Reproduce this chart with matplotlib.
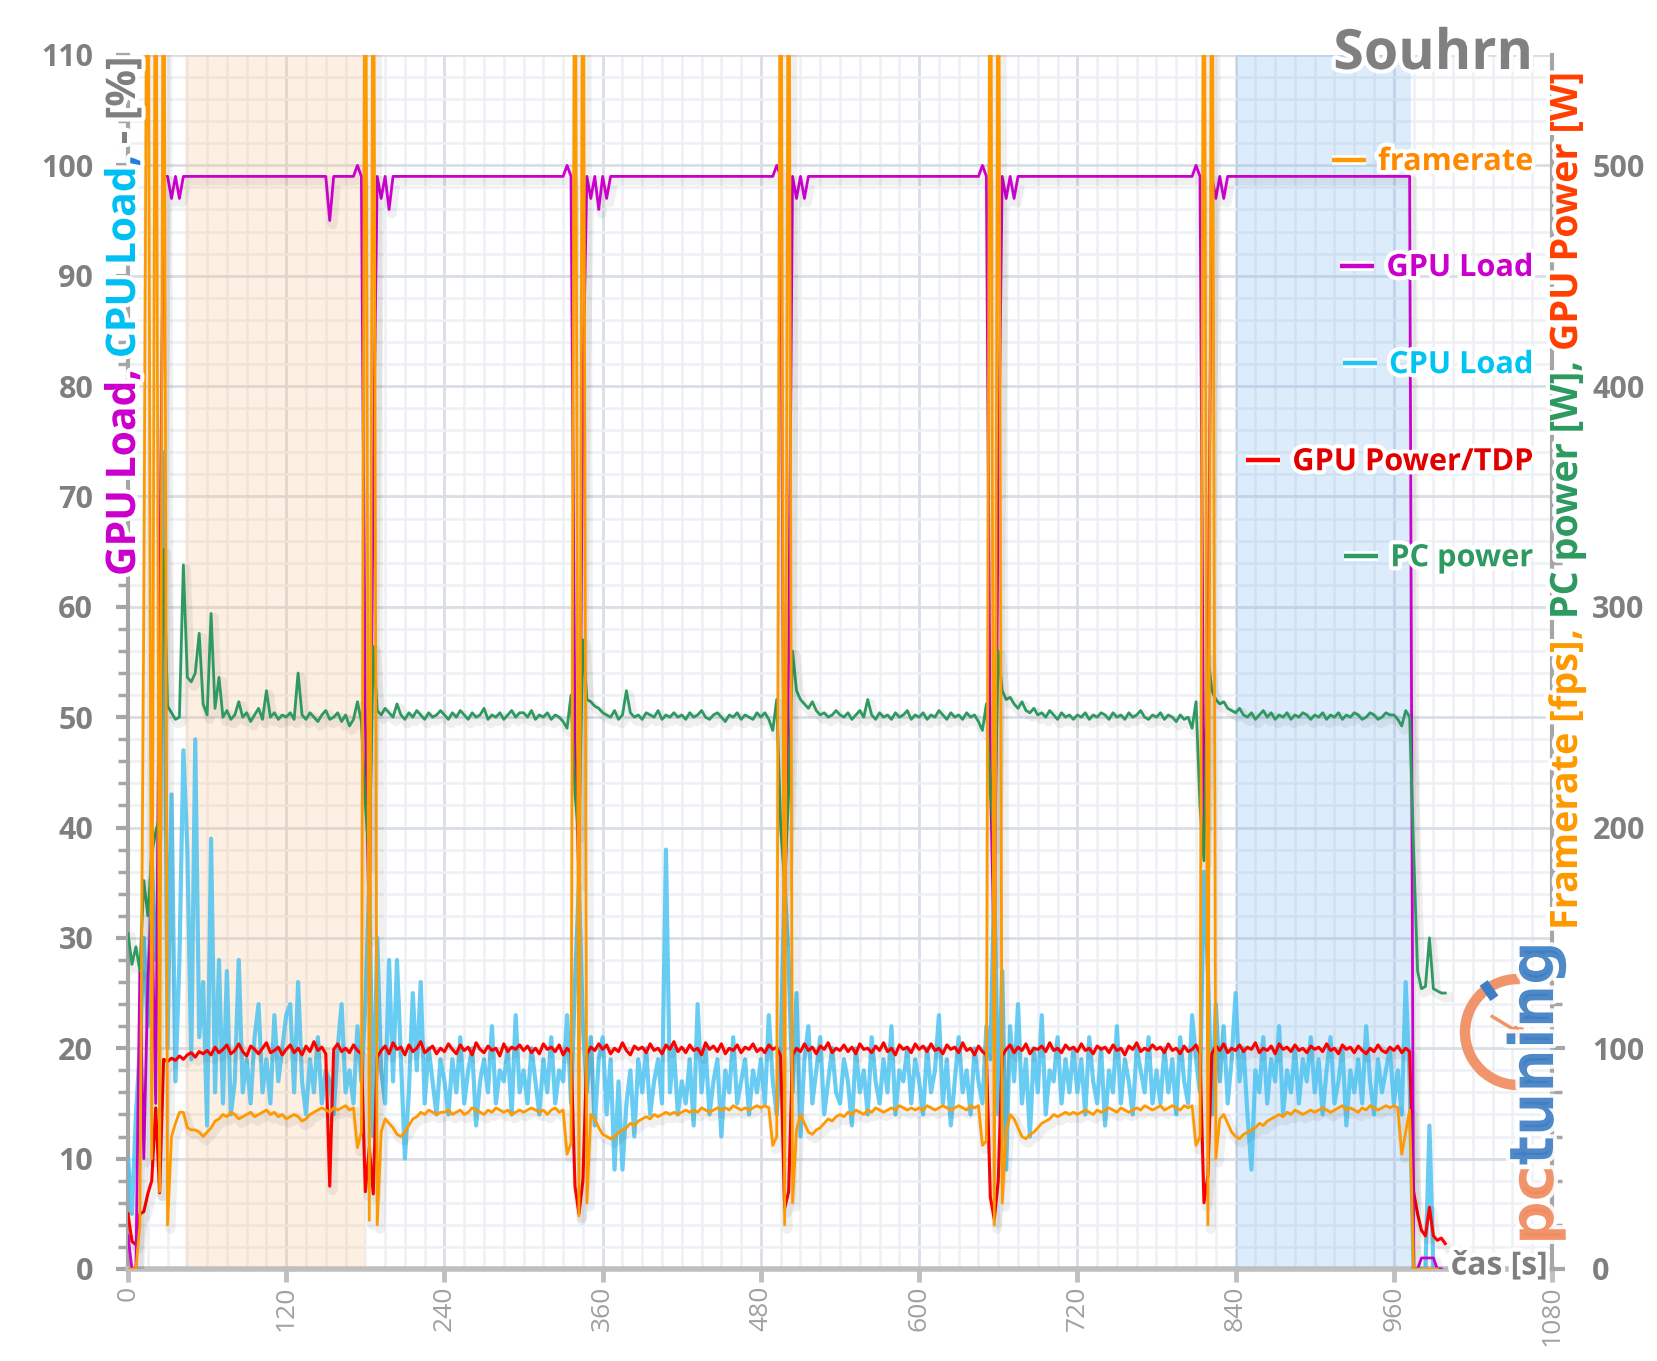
import numpy as np
import matplotlib
matplotlib.use("Agg")
import matplotlib.pyplot as plt
from matplotlib import patheffects as pe
from matplotlib.ticker import MultipleLocator, FixedLocator
from matplotlib.patches import Arc, Circle
from matplotlib.transforms import IdentityTransform
from matplotlib.font_manager import FontProperties

plt.rcParams['font.family'] = ['Open Sans', 'DejaVu Sans']
nan = np.nan

# sampling every 3 s
t = np.arange(334) * 3

# GPU load [%]
gpu_load = [
    3, 0, 0, 27, 10, 26, 33, 15, 60, 99, 99, 97, 99, 97, 99, 99, 99, 99, 99, 99,
    99, 99, 99, 99, 99, 99, 99, 99, 99, 99, 99, 99, 99, 99, 99, 99, 99, 99, 99, 99,
    99, 99, 99, 99, 99, 99, 99, 99, 99, 99, 99, 95, 99, 99, 99, 99, 99, 99, 100, 99,
    50, 30, 72, 99, 97, 99, 96, 99, 99, 99, 99, 99, 99, 99, 99, 99, 99, 99, 99, 99,
    99, 99, 99, 99, 99, 99, 99, 99, 99, 99, 99, 99, 99, 99, 99, 99, 99, 99, 99, 99,
    99, 99, 99, 99, 99, 99, 99, 99, 99, 99, 99, 100, 99, 48, 35, 80, 99, 97, 99, 96,
    99, 97, 99, 99, 99, 99, 99, 99, 99, 99, 99, 99, 99, 99, 99, 99, 99, 99, 99, 99,
    99, 99, 99, 99, 99, 99, 99, 99, 99, 99, 99, 99, 99, 99, 99, 99, 99, 99, 99, 99,
    99, 99, 99, 99, 100, 99, 30, 55, 99, 97, 99, 97, 99, 99, 99, 99, 99, 99, 99, 99,
    99, 99, 99, 99, 99, 99, 99, 99, 99, 99, 99, 99, 99, 99, 99, 99, 99, 99, 99, 99,
    99, 99, 99, 99, 99, 99, 99, 99, 99, 99, 99, 99, 99, 99, 99, 99, 100, 99, 45, 28,
    70, 99, 97, 99, 97, 99, 99, 99, 99, 99, 99, 99, 99, 99, 99, 99, 99, 99, 99, 99,
    99, 99, 99, 99, 99, 99, 99, 99, 99, 99, 99, 99, 99, 99, 99, 99, 99, 99, 99, 99,
    99, 99, 99, 99, 99, 99, 99, 99, 99, 99, 100, 99, 40, 55, 99, 97, 99, 97, 99, 99,
    99, 99, 99, 99, 99, 99, 99, 99, 99, 99, 99, 99, 99, 99, 99, 99, 99, 99, 99, 99,
    99, 99, 99, 99, 99, 99, 99, 99, 99, 99, 99, 99, 99, 99, 99, 99, 99, 99, 99, 99,
    99, 99, 99, 99, 99, 0, 0, 1, 1, 1, 1, 0, 0, nan,
]

# CPU load [%]
cpu_load = [
    10, 5, 14, 20, 30, 22, 37, 28, 35, 74, 20, 43, 17, 28, 47, 38, 19, 48, 21, 26,
    13, 39, 16, 28, 15, 27, 14, 17, 28, 16, 19, 15, 21, 24, 16, 19, 15, 23, 17, 20,
    23, 24, 16, 26, 17, 14, 19, 16, 21, 15, 18, 17, 14, 20, 24, 16, 18, 15, 22, 17,
    24, 35, 12, 30, 18, 15, 28, 17, 28, 19, 10, 16, 25, 18, 26, 15, 20, 17, 14, 19,
    17, 14, 19, 16, 21, 15, 18, 20, 13, 17, 19, 16, 22, 15, 18, 17, 20, 14, 23, 16,
    18, 15, 20, 17, 14, 19, 16, 21, 15, 18, 17, 23, 15, 26, 35, 22, 16, 21, 13, 19,
    21, 14, 19, 9, 17, 9, 15, 18, 12, 19, 16, 20, 14, 17, 19, 15, 38, 16, 20, 14,
    17, 15, 19, 13, 24, 16, 20, 14, 17, 19, 12, 18, 16, 21, 15, 17, 19, 14, 18, 16,
    19, 15, 23, 17, 14, 20, 35, 28, 16, 25, 12, 19, 22, 15, 18, 21, 14, 17, 20, 16,
    15, 19, 17, 13, 20, 16, 18, 14, 21, 17, 15, 19, 16, 22, 14, 18, 17, 20, 15, 19,
    17, 14, 20, 16, 18, 23, 15, 19, 13, 17, 21, 16, 18, 14, 20, 17, 15, 22, 19, 35,
    14, 27, 9, 22, 17, 24, 15, 19, 12, 20, 16, 23, 14, 18, 17, 21, 15, 19, 16, 20,
    16, 19, 14, 21, 17, 15, 20, 13, 18, 16, 22, 15, 19, 17, 14, 20, 18, 16, 21, 15,
    18, 15, 20, 16, 19, 14, 21, 17, 15, 23, 19, 16, 36, 27, 14, 24, 17, 22, 15, 19,
    25, 17, 20, 14, 9, 18, 16, 21, 15, 19, 17, 22, 14, 18, 16, 20, 15, 19, 17, 21,
    16, 19, 14, 18, 21, 15, 17, 20, 13, 18, 16, 19, 15, 22, 17, 14, 19, 16, 18, 20,
    15, 18, 14, 26, 17, 0, 0, 0, 0, 13, 0, 0, nan, nan,
]

# GPU power / TDP [%]
gpu_power = [
    5, 2.5, 2.2, 5, 5.2, 6.8, 8, 14.6, 6.9, 19, 18.8, 19.1, 18.9, 19.3, 19.0, 19.4, 19.6, 19.2, 19.7, 19.5,
    19.8, 19.4, 20.1, 19.6, 19.9, 20.3, 19.5, 19.8, 20.4, 19.7, 19.3, 20.2, 19.9, 19.5, 20.0, 20.5, 19.6, 19.8, 20.1, 19.4,
    19.9, 20.3, 19.6, 20.0, 19.4, 20.2, 19.7, 20.6, 19.8, 20.1, 19.5, 7.5, 19.9, 20.4, 19.7, 20.0, 19.6, 20.3, 19.8, 19.5,
    7, 11, 6.8, 19.2, 19.8, 20.2, 19.5, 20.5, 19.9, 20.1, 19.4, 20.3, 19.7, 20.0, 20.6, 19.6, 19.9, 20.2, 19.5, 20.0,
    19.7, 20.4, 19.9, 19.5, 20.3, 19.8, 20.1, 19.4, 20.5, 19.9, 19.6, 20.2, 19.8, 20.0, 19.3, 20.4, 19.7, 20.1, 19.9, 20.3,
    19.8, 20.2, 19.6, 20.0, 19.5, 20.4, 19.9, 20.1, 19.7, 20.3, 19.4, 20.0, 19.6, 7.5, 5, 8, 19.5, 20.1, 19.8, 20.4,
    19.9, 20.3, 19.5, 20.0, 19.7, 20.5, 19.8, 19.4, 20.2, 19.9, 20.1, 19.6, 20.4, 19.8, 20.0, 19.5, 20.3, 19.9, 20.6, 19.7,
    20.1, 19.6, 20.3, 19.8, 20.0, 19.4, 20.5, 19.9, 20.2, 19.7, 20.4, 19.5, 20.0, 19.8, 20.3, 19.6, 20.1, 19.9, 20.4, 19.7,
    20.0, 19.6, 20.3, 19.9, 20.1, 19.3, 5.5, 7, 19.4, 20.0, 19.7, 20.4, 19.8, 20.1, 19.5, 20.2, 19.9, 20.5, 19.6, 20.0,
    19.8, 20.3, 19.7, 20.1, 19.5, 20.4, 19.9, 20.0, 19.6, 20.2, 19.8, 20.5, 19.7, 20.0, 19.4, 20.3, 19.9, 20.1, 19.6, 20.4,
    19.9, 20.2, 19.7, 20.4, 19.8, 20.0, 19.5, 20.3, 19.9, 20.1, 19.6, 20.5, 19.8, 20.0, 19.4, 20.2, 19.7, 19.4, 6.5, 4.5,
    8, 19.3, 19.9, 20.3, 19.6, 20.1, 19.8, 20.4, 19.5, 20.0, 19.9, 20.2, 19.7, 20.5, 19.8, 20.0, 19.6, 20.3, 19.9, 20.1,
    19.7, 20.4, 19.8, 20.0, 19.5, 20.2, 19.9, 20.1, 19.6, 20.3, 19.8, 20.0, 19.4, 20.2, 19.9, 20.5, 19.7, 20.0, 19.8, 20.3,
    19.9, 20.1, 19.6, 20.4, 19.8, 20.0, 19.5, 20.2, 19.7, 19.9, 20.3, 19.5, 6, 8.5, 19.5, 20.2, 19.8, 20.4, 19.6, 20.0,
    19.8, 20.3, 19.7, 20.1, 19.9, 20.5, 19.6, 20.0, 19.8, 20.2, 19.5, 20.4, 19.9, 20.1, 19.7, 20.3, 19.8, 20.0, 19.6, 20.2,
    19.9, 20.1, 19.7, 20.4, 19.8, 20.0, 19.5, 20.3, 19.9, 20.1, 19.6, 20.2, 19.8, 19.5, 20.0, 19.7, 20.3, 19.8, 19.6, 20.1,
    19.8, 20.2, 19.6, 20.0, 19.7, 7, 5, 3.5, 3, 5.6, 3, 2.6, 2.8, 2.3,
]

# framerate [fps]
framerate = [
    0, 0, 0, 20, 300, 700, 50, 700, 35, 700, 20, 60, 66, 71, 71, 64, 63, 63, 62, 60,
    62, 64, 67, 68, 70, 69, 71, 70, 68, 69, 70, 71, 69, 70, 71, 72, 70, 71, 69, 70,
    68, 69, 70, 69, 67, 68, 70, 71, 72, 73, 72, 71, 73, 72, 73, 74, 72, 73, 55, 62,
    700, 22, 700, 20, 62, 68, 66, 64, 61, 60, 62, 65, 68, 69, 71, 70, 72, 71, 70, 71,
    71, 72, 70, 71, 72, 70, 71, 73, 72, 71, 70, 72, 71, 73, 72, 71, 72, 70, 71, 72,
    71, 72, 73, 72, 71, 72, 70, 72, 73, 71, 72, 52, 57, 700, 24, 700, 30, 70, 68, 64,
    61, 60, 59, 60, 62, 63, 64, 66, 65, 67, 68, 69, 68, 70, 69, 70, 71, 70, 71, 70,
    71, 72, 71, 72, 71, 73, 72, 71, 72, 73, 72, 73, 72, 74, 73, 72, 73, 72, 73, 74,
    73, 74, 73, 56, 60, 700, 20, 700, 30, 63, 70, 66, 62, 61, 63, 64, 66, 68, 67, 69,
    70, 69, 71, 70, 72, 71, 70, 72, 71, 73, 72, 71, 72, 73, 72, 74, 73, 72, 73, 72,
    73, 72, 74, 73, 72, 73, 74, 73, 72, 73, 74, 73, 72, 74, 73, 74, 56, 58, 700, 20,
    700, 30, 62, 70, 68, 64, 60, 59, 61, 62, 64, 66, 67, 68, 70, 69, 70, 71, 70, 71,
    70, 71, 72, 71, 70, 72, 71, 72, 73, 72, 71, 73, 72, 71, 72, 73, 72, 74, 73, 72,
    73, 74, 72, 73, 74, 73, 72, 74, 73, 74, 56, 60, 700, 20, 700, 50, 68, 70, 66, 62,
    60, 59, 61, 62, 63, 64, 66, 65, 67, 68, 69, 70, 69, 71, 70, 72, 71, 70, 71, 72,
    71, 72, 73, 72, 71, 72, 73, 74, 72, 73, 72, 71, 73, 72, 74, 73, 72, 73, 74, 73,
    74, 73, 52, 62, 72, 0, 0, 0, 0, 0, 0, 0, nan, nan,
]

# PC power [W]
pc_power = [
    152, 138, 146, 135, 176, 160, 188, 198, 205, 326, 255, 252, 249, 250, 319, 268, 266, 270, 288, 256,
    251, 297, 254, 268, 250, 253, 249, 251, 257, 250, 252, 248, 251, 254, 249, 262, 250, 252, 249, 251,
    250, 252, 249, 270, 251, 249, 252, 250, 248, 251, 253, 249, 250, 252, 248, 251, 246, 249, 257, 248,
    211, 184, 282, 253, 251, 254, 252, 250, 256, 251, 249, 252, 250, 253, 251, 249, 252, 250, 251, 253,
    251, 249, 252, 250, 253, 251, 249, 252, 250, 251, 254, 249, 251, 250, 252, 249, 251, 253, 250, 252,
    252, 250, 253, 249, 251, 250, 252, 249, 251, 250, 248, 245, 260, 215, 197, 285, 258, 257, 255, 254,
    252, 251, 250, 253, 249, 251, 262, 252, 250, 251, 249, 252, 251, 250, 253, 249, 251, 250, 252, 250,
    251, 249, 252, 250, 251, 253, 250, 249, 251, 252, 250, 248, 251, 250, 252, 249, 251, 250, 249, 252,
    250, 252, 249, 244, 258, 200, 175, 215, 280, 262, 258, 256, 254, 257, 253, 251, 252, 250, 251, 253,
    251, 250, 252, 249, 251, 253, 250, 258, 251, 249, 252, 250, 251, 249, 252, 250, 251, 253, 249, 251,
    250, 252, 249, 251, 250, 253, 251, 249, 252, 250, 251, 249, 252, 250, 251, 248, 244, 256, 218, 192,
    280, 262, 258, 259, 256, 254, 257, 253, 252, 254, 251, 252, 250, 253, 251, 249, 252, 250, 251, 249,
    251, 250, 252, 249, 251, 250, 252, 251, 249, 252, 250, 251, 249, 252, 250, 251, 253, 250, 249, 251,
    250, 252, 249, 251, 250, 248, 251, 249, 250, 245, 257, 210, 185, 278, 262, 258, 256, 257, 254, 253,
    252, 254, 251, 250, 252, 249, 251, 253, 250, 252, 249, 251, 250, 252, 249, 251, 250, 252, 251, 249,
    251, 250, 252, 249, 251, 250, 252, 249, 251, 250, 252, 251, 249, 250, 252, 251, 249, 250, 252, 251,
    251, 249, 246, 253, 250, 190, 135, 127, 128, 150, 127, 126, 125, 125,
]

# highlighted ranges [s]
orange_span = (43, 180)
blue_span = (840, 973)

C_FPS = '#FF9900'
C_GPU = '#CC00CC'
C_CPU = '#4FC3F0'
C_PWR = '#FF0000'
C_PC = '#2E9960'
GRAY = '#7F7F7F'

glow = [pe.withStroke(linewidth=6, foreground='white')]
shadow = [pe.SimpleLineShadow(offset=(2, -3), shadow_color='black', alpha=0.06, linewidth=7),
          pe.Normal()]

fig = plt.figure(figsize=(16.58, 13.61), dpi=100)
ax = fig.add_axes([0.0772, 0.0676, 0.8589, 0.8920])
ax2 = ax.twinx()

ax.set_axisbelow(True)
ax.axvspan(*orange_span, color='#F9C08A', alpha=0.25, lw=0, zorder=1)
ax.axvspan(*blue_span, color='#79B4F0', alpha=0.25, lw=0, zorder=1)

ax.plot(t, cpu_load, color=C_CPU, lw=3, alpha=0.85, zorder=3)
ax.plot(t, gpu_power, color=C_PWR, lw=2.2, zorder=4, path_effects=shadow)
ax.plot(t, gpu_load, color=C_GPU, lw=2, zorder=5, path_effects=shadow)
ax2.plot(t, pc_power, color=C_PC, lw=2, zorder=3, path_effects=shadow)
ax2.plot(t, framerate, color=C_FPS, lw=2, zorder=4, path_effects=shadow)

ax.set_xlim(0, 1080)
ax.set_ylim(0, 110)
ax2.set_ylim(0, 550)
ax.xaxis.set_major_locator(MultipleLocator(120))
ax.xaxis.set_minor_locator(MultipleLocator(15))
ax.yaxis.set_major_locator(MultipleLocator(10))
ax.yaxis.set_minor_locator(MultipleLocator(2))
ax2.yaxis.set_major_locator(FixedLocator([0, 100, 200, 300, 400, 500]))
ax2.yaxis.set_minor_locator(MultipleLocator(20))

ax.grid(which='major', color='#D9DEE6', lw=2)
ax.grid(which='minor', color='#EDF0F4', lw=1.8)

ax.tick_params(axis='x', which='minor', length=0)
ax.tick_params(axis='x', which='major', length=9, width=3.5, color='#BFBFBF',
               labelsize=19, labelcolor='#A0A0A0', labelrotation=90, pad=3)
ax.tick_params(axis='y', which='major', length=9, width=3, color='#A6A6A6',
               labelsize=22, labelcolor=GRAY, pad=16)
ax.tick_params(axis='y', which='minor', length=7, width=2.5, color='#A6A6A6')
ax2.tick_params(axis='y', which='major', length=9, width=3, color='#A6A6A6',
                labelsize=22, labelcolor=GRAY, pad=20)
ax2.tick_params(axis='y', which='minor', length=7, width=2.5, color='#A6A6A6')
plt.setp(ax.get_yticklabels(), fontweight='bold')
plt.setp(ax2.get_yticklabels(), fontweight='bold')

for s in ['top', 'right']:
    ax.spines[s].set_visible(False)
for s in ['top', 'left', 'bottom']:
    ax2.spines[s].set_visible(False)
ax.spines['left'].set_color('#A6A6A6')
ax.spines['left'].set_linewidth(3)
ax.spines['bottom'].set_color('#BFBFBF')
ax.spines['bottom'].set_linewidth(4)
ax2.spines['right'].set_color('#A6A6A6')
ax2.spines['right'].set_linewidth(3)

renderer = fig.canvas.get_renderer()
W, H = fig.bbox.width, fig.bbox.height


def text_w(s, fp):
    w, h, d = renderer.get_text_width_height_descent(s, fp, ismath=False)
    return w


def fit_size(s, target_px, weight='bold', family='Open Sans'):
    fp = FontProperties(family=family, weight=weight, size=20)
    return 20 * target_px / text_w(s, fp)


def vertical_label(x_px, y_px, parts, length_px, family='Open Sans', alpha=1.0):
    full = ''.join(p for p, c in parts)
    size = fit_size(full, length_px, family=family)
    fp = FontProperties(family=family, weight='bold', size=size)
    ref = text_w('x', fp)
    pos = 0
    for s, c in parts:
        off = 0 if pos == 0 else text_w(full[:pos] + 'x', fp) - ref
        fig.text(x_px / W, (H - y_px + off) / H, s, color=c, rotation=90,
                 rotation_mode='anchor', ha='left', va='baseline',
                 fontproperties=fp, alpha=alpha, path_effects=glow, zorder=20)
        pos += len(s)


# axis titles (multi coloured, vertical)
vertical_label(135, 576, [('GPU Load', C_GPU), (', ', C_GPU), ('CPU Load', '#00BFF2'),
                          (', ', '#2080E0'), ('- ', GRAY), ('[%]', GRAY)], 520)
vertical_label(1577, 930, [('Framerate [fps]', C_FPS), (', ', C_FPS),
                           ('PC power [W]', C_PC), (', ', C_PC),
                           ('GPU Power [W]', '#FF4000')], 857)

# legend, right aligned text with short line in front
legend = [('framerate', '#FF8800', C_FPS, 100.3),
          ('GPU Load', C_GPU, C_GPU, 90.7),
          ('CPU Load', '#00C4F4', '#22C4F4', 81.9),
          ('GPU Power/TDP', '#E00000', C_PWR, 73.1),
          ('PC power', C_PC, C_PC, 64.4)]
leg_fp = FontProperties(family='Open Sans', weight='bold',
                        size=fit_size('GPU Power/TDP', 241))
axw = ax.bbox.width
x_right = (1533 - 128) / 1424
for label, tc, lc, yv in legend:
    ax2.text(x_right, yv / 110, label, transform=ax2.transAxes, ha='right', va='center',
             color=tc, fontproperties=leg_fp, path_effects=glow, zorder=20)
    w = text_w(label, leg_fp)
    x1 = x_right - (w + 12) / axw
    x0 = x1 - 34 / axw
    ax2.plot([x0, x1], [yv / 110 + 0.002, yv / 110 + 0.002], transform=ax2.transAxes,
             color=lc, lw=3.2, solid_capstyle='butt', zorder=20,
             path_effects=[pe.withStroke(linewidth=7, foreground='white')])

# title and x label
fig.text(1533 / W, 1 - 69 / H, 'Souhrn', ha='right', va='baseline', color='#808080',
         fontsize=40, fontweight='bold', path_effects=glow, zorder=20)
fig.text(1548 / W, 1 - 1266 / H, 'čas [s]', ha='right', va='center', color=GRAY,
         fontsize=23, fontweight='bold', path_effects=glow, zorder=20)

# pctuning watermark
vertical_label(1553, 1245, [('pc', '#F08A5D'), ('tuning', '#3F7EC3')], 304,
               family='DejaVu Sans', alpha=0.9)
cx, cy = 1518, H - 1032
fig.add_artist(Arc((cx, cy), 106, 106, theta1=88, theta2=272, color='#F08A5D',
                   lw=7.5, alpha=0.9, transform=IdentityTransform()))
a = np.deg2rad(125)
fig.add_artist(plt.Line2D([cx + 46 * np.cos(a), cx + 55 * np.cos(a)],
                          [cy + 46 * np.sin(a), cy + 55 * np.sin(a)],
                          color='#3F7EC3', lw=7, transform=IdentityTransform()))
a = np.deg2rad(149)
fig.add_artist(plt.Line2D([cx, cx + 30 * np.cos(a)], [cy, cy + 30 * np.sin(a)],
                          color='#F08A5D', lw=2.5, alpha=0.9, transform=IdentityTransform()))
fig.add_artist(Circle((cx, cy), 6, color='#F08A5D', alpha=0.9, transform=IdentityTransform()))

fig.savefig('out.png', dpi=100)
